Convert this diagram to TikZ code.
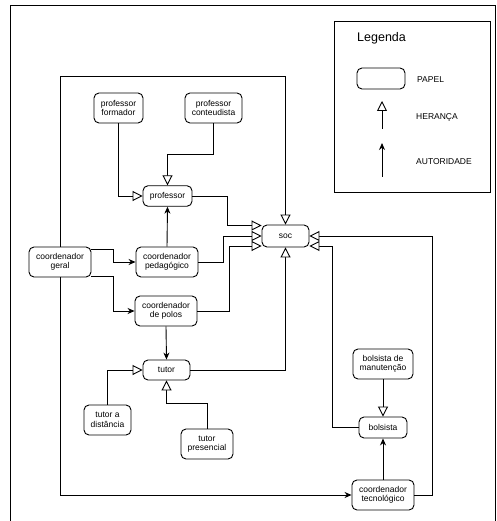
\documentclass[tikz,border=0pt]{standalone}
\usepackage{fontspec}
\setmainfont{Liberation Sans}
\usetikzlibrary{arrows.meta}
\begin{document}
\begin{tikzpicture}[x=1pt,y=-1pt,
  role/.style={draw, line width=0.9pt, rounded corners=5pt, align=center, inner sep=0pt,
    font=\fontsize{8.5}{9.5}\selectfont},
  conn/.style={draw, line width=0.9pt},
  herit/.style={conn, -{Triangle[open, length=10pt, width=10pt, fill=white, line width=0.9pt]}},
  auth/.style={conn, -{Stealth[length=7pt, width=6pt]}},
  lbl/.style={font=\fontsize{8.5}{9.5}\selectfont, anchor=west, inner sep=0pt}]
\useasboundingbox (0,0) rectangle (496,521);
% outer frame
\draw[line width=0.8pt] (10,521) -- (10,5) -- (495,5) -- (495,521);
% legend
\draw[line width=0.9pt] (334,21) rectangle (490,192);
\node[font=\fontsize{12.5}{14}\selectfont, anchor=west, inner sep=0pt] (legtitle) at (357,38) {Legenda};
\node[role, minimum width=48pt, minimum height=21pt] (legbox) at (381,78.5) {};
\node[lbl] (legpapel) at (417,80) {PAPEL};
\coordinate (lh1) at (382,129);
\coordinate (lh2) at (382,101);
\draw[herit] (lh1) -- (lh2);
\node[lbl] (legher) at (416,117) {HERANÇA};
\coordinate (la1) at (382,177);
\coordinate (la2) at (382,143);
\draw[auth] (la1) -- (la2);
\node[lbl] (legaut) at (416,162) {AUTORIDADE};
% nodes
\node[role, minimum width=49pt, minimum height=30pt] (formador) at (118.5,108) {professor\\formador};
\node[role, minimum width=57pt, minimum height=30pt] (conteud) at (213.5,108) {professor\\conteudista};
\node[role, minimum width=49pt, minimum height=20.5pt] (professor) at (167.5,196) {professor};
\node[role, minimum width=47pt, minimum height=22pt] (soc) at (285.5,236) {soc};
\node[role, minimum width=62pt, minimum height=30pt] (geral) at (60,262) {coordenador\\geral};
\node[role, minimum width=62pt, minimum height=30pt] (pedag) at (167,262) {coordenador\\pedagógico};
\node[role, minimum width=62pt, minimum height=30pt] (polos) at (166,311) {coordenador\\de polos};
\node[role, minimum width=47pt, minimum height=20pt] (tutor) at (166.5,370) {tutor};
\node[role, minimum width=47pt, minimum height=30pt] (tdist) at (107.5,420) {tutor a\\distância};
\node[role, minimum width=52pt, minimum height=30pt] (tpres) at (207,444) {tutor\\presencial};
\node[role, minimum width=60pt, minimum height=30pt] (bman) at (383,364) {bolsista de\\manutenção};
\node[role, minimum width=48pt, minimum height=21pt] (bolsista) at (383,427.5) {bolsista};
\node[role, minimum width=62pt, minimum height=30pt] (tec) at (383,495) {coordenador\\tecnológico};
% connectors
\draw[herit] (geral.north) -- ++(0,-170) -| (soc.north);
\draw[auth] (geral.south) |- (tec.west);
\draw[auth] ([yshift=13pt]geral.east) -- ++(22,0) |- (pedag.west);
\draw[auth] ([yshift=-14pt]geral.east) -- ++(22,0) |- (polos.west);
\draw[auth] (pedag.north) -- (professor.south);
\draw[auth] (polos.south) -- (tutor.north);
\draw[herit] (formador.south) |- (professor.west);
\draw[herit] (conteud.south) -- ++(0,31) -| (professor.north);
\draw[herit] (professor.east) -- ++(35,0) |- ([yshift=10.5pt]soc.west);
\draw[herit] (pedag.east) -- ++(25,0) |- (soc.west);
\draw[herit] (polos.east) -- ++(32,0) |- ([yshift=-10pt]soc.west);
\draw[herit] (tutor.east) -| (soc.south);
\draw[herit] (tdist.north) |- (tutor.west);
\draw[herit] (tpres.north) -- ++(0,-25) -| (tutor.south);
\draw[herit] (bman.south) -- (bolsista.north);
\draw[auth] (tec.north) -- (bolsista.south);
\draw[herit] (bolsista.west) -- ++(-26,0) |- ([yshift=-10pt]soc.east);
\draw[herit] (tec.east) -- ++(18,0) |- (soc.east);
\end{tikzpicture}
\end{document}
